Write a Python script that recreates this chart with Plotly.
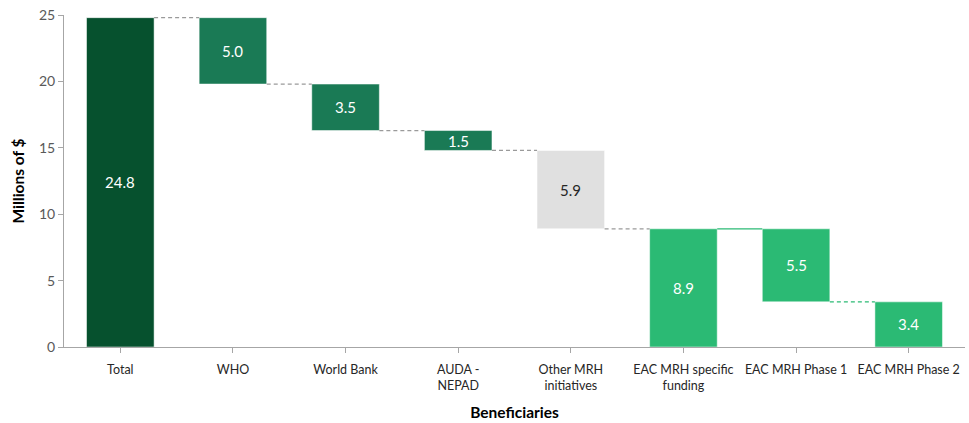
import plotly.graph_objects as go

categories = ["Total", "WHO", "World Bank", "AUDA -<br>NEPAD", "Other MRH<br>initiatives",
              "EAC MRH specific<br>funding", "EAC MRH Phase 1", "EAC MRH Phase 2"]
values = [24.8, 5.0, 3.5, 1.5, 5.9, 8.9, 5.5, 3.4]
kinds = ["total", "down", "down", "down", "down", "total", "down", "down"]
colors = ["#06512E", "#1A7A55", "#1A7A55", "#1A7A55", "#E0E0E0", "#2BBA74", "#2BBA74", "#2BBA74"]
text_colors = ["white", "white", "white", "white", "#262626", "white", "white", "white"]
connector_colors = ["#9A9A9A", "#9A9A9A", "#9A9A9A", "#9A9A9A", "#9A9A9A", "#2BBA74", "#2BBA74"]
connector_dash = ["4px,3px", "4px,3px", "4px,3px", "4px,3px", "4px,3px", "solid", "4px,3px"]

# compute bases and running levels
bases, heights, ends = [], [], []
running = 0.0
for v, k in zip(values, kinds):
    if k == "total":
        running = v
        bases.append(0.0)
    else:
        running -= v
        bases.append(running)
    heights.append(v)
    ends.append(running)

conn_levels = []
for i in range(len(values) - 1):
    if kinds[i + 1] == "total":
        conn_levels.append(values[i + 1])
    else:
        conn_levels.append(ends[i])

font = "Lato, 'Open Sans', sans-serif"
bw = 0.6

fig = go.Figure()
fig.add_trace(go.Bar(
    x=list(range(len(categories))), y=heights, base=bases,
    marker=dict(color=colors, line=dict(color="rgba(255,255,255,0.5)", width=1)),
    width=bw,
    hoverinfo="skip",
))

annotations = []
for i, (b, h) in enumerate(zip(bases, heights)):
    annotations.append(dict(x=i, y=b + h / 2, xref="x", yref="y", text=f"{values[i]:.1f}",
                            showarrow=False, font=dict(size=15, color=text_colors[i], family=font)))

shapes = []
for i, lvl in enumerate(conn_levels):
    shapes.append(dict(type="line", xref="x", yref="y",
                       x0=i + bw / 2, x1=i + 1 - bw / 2, y0=lvl, y1=lvl,
                       line=dict(color=connector_colors[i], width=1.3, dash=connector_dash[i])))

fig.update_layout(
    width=969, height=423,
    margin=dict(l=64, r=4, t=15, b=76),
    plot_bgcolor="white", paper_bgcolor="white",
    showlegend=False, shapes=shapes, annotations=annotations,
    font=dict(family=font, color="#262626"),
    xaxis=dict(
        tickmode="array", tickvals=list(range(len(categories))), ticktext=categories,
        range=[-0.5, len(categories) - 0.5],
        showline=True, linecolor="#A6A6A6", linewidth=1,
        ticks="outside", tickcolor="#A6A6A6", ticklen=5,
        tickfont=dict(size=12.5, color="#262626"),
        ticklabelstandoff=6, automargin=False,
        showgrid=False, zeroline=False,
        title=dict(text="<b>Beneficiaries</b>", font=dict(size=15.5, color="#000000"), standoff=14),
    ),
    yaxis=dict(
        range=[0, 25], dtick=5, tick0=0,
        showline=True, linecolor="#A6A6A6", linewidth=1,
        ticks="outside", tickcolor="#A6A6A6", ticklen=5,
        tickfont=dict(size=14, color="#595959"),
        showgrid=False, zeroline=False, automargin=False,
        title=dict(text="<b>Millions of $</b>", font=dict(size=15.5, color="#000000"), standoff=10),
    ),
)
fig.update_xaxes(tickson="boundaries")

fig.write_html("out.html")
